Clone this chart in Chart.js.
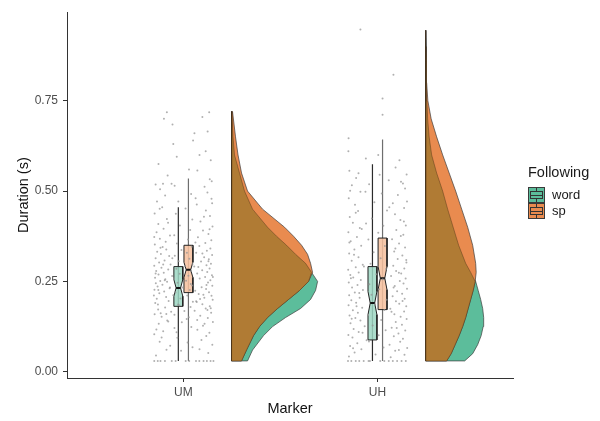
<!DOCTYPE html>
<html lang="en">
<head>
<meta charset="UTF-8">
<title>Duration by Marker</title>
<script src="https://cdn.jsdelivr.net/npm/chart.js"></script>
<style>
  body { margin: 0; background: #fff; font-family: "Liberation Sans", Arial, sans-serif; }
  #wrap { position: relative; width: 600px; height: 421px; }
  #legend { position: absolute; left: 528px; top: 164px; color: #1a1a1a; }
  #legend .title { font-size: 14.5px; height: 23px; }
  .item { position: relative; height: 16px; font-size: 13px; line-height: 16px; padding-left: 24px; }
  .key { position: absolute; left: 0; top: 0; width: 15px; height: 14px; border: 1px solid #3a3a3a; }
  .key .whisk { position: absolute; left: 7px; top: 0; width: 1px; height: 14px; background: #333; }
  .key .box { position: absolute; left: 1px; width: 11px; top: 3px; height: 6px; border: 1px solid #333; }
  .key .med { position: absolute; left: 0; right: 0; top: 2.5px; height: 1px; background: #333; }
</style>
</head>
<body>
<div id="wrap">
  <canvas id="chart" width="600" height="421"></canvas>
  <div id="legend">
    <div class="title">Following</div>
    <div class="item"><span class="key" id="keyWord"><span class="whisk"></span><span class="box"><span class="med"></span></span></span>word</div>
    <div class="item"><span class="key" id="keySp"><span class="whisk"></span><span class="box"><span class="med"></span></span></span>sp</div>
  </div>
</div>
<script>
const markers = ['UM', 'UH'];
const followers = ['word', 'sp'];
const yTicks = [0, 0.25, 0.5, 0.75];

// half-violin densities (relative), one grid of durations per marker
const umGrid = [0.03, 0.06, 0.10, 0.125, 0.15, 0.175, 0.20, 0.225, 0.25, 0.275, 0.30, 0.325, 0.35, 0.375, 0.40, 0.45, 0.50, 0.55, 0.60, 0.65, 0.72];
const umWordDensity = [0.16, 0.21, 0.32, 0.41, 0.54, 0.69, 0.79, 0.84, 0.86, 0.80, 0.74, 0.64, 0.55, 0.45, 0.36, 0.21, 0.13, 0.08, 0.03, 0.015, 0.004];
const umSpDensity = [0.10, 0.15, 0.22, 0.28, 0.36, 0.46, 0.57, 0.68, 0.77, 0.81, 0.79, 0.76, 0.70, 0.62, 0.53, 0.31, 0.16, 0.10, 0.065, 0.04, 0.01];

const uhGrid = [0.03, 0.05, 0.075, 0.10, 0.125, 0.15, 0.175, 0.20, 0.225, 0.25, 0.275, 0.30, 0.35, 0.40, 0.45, 0.50, 0.55, 0.60, 0.65, 0.70, 0.75, 0.80, 0.85, 0.90, 0.945];
const uhWordDensity = [0.39, 0.47, 0.52, 0.555, 0.575, 0.58, 0.57, 0.55, 0.525, 0.50, 0.45, 0.40, 0.33, 0.275, 0.22, 0.17, 0.11, 0.06, 0.035, 0.02, 0.013, 0.009, 0.006, 0.004, 0.002];
const uhSpDensity = [0.21, 0.255, 0.295, 0.335, 0.37, 0.40, 0.425, 0.45, 0.475, 0.495, 0.505, 0.50, 0.47, 0.42, 0.36, 0.30, 0.235, 0.17, 0.11, 0.055, 0.022, 0.01, 0.006, 0.003, 0];

// boxplots: [lower whisker, q1, median, q3, upper whisker, notch half-height]
const umWordBox = [0.03, 0.181, 0.232, 0.291, 0.455, 0.023];
const umSpBox = [0.03, 0.219, 0.282, 0.350, 0.535, 0.021];
const uhWordBox = [0.03, 0.088, 0.190, 0.291, 0.574, 0.032];
const uhSpBox = [0.03, 0.172, 0.259, 0.370, 0.643, 0.032];

// raw durations with their jitter offset: [offset, duration]
const umPoints = [
  [-0.150,0.03],[-0.132,0.03],[-0.118,0.03],[-0.095,0.03],[0.082,0.03],[0.104,0.03],[0.121,0.03],[0.140,0.03],[0.155,0.03],[-0.060,0.03],[0.065,0.03],
  [-0.141,0.045],[0.128,0.052],[-0.087,0.061],[0.047,0.068],[0.149,0.075],[-0.122,0.083],[0.093,0.088],[-0.031,0.094],[0.118,0.099],[-0.068,0.072],
  [-0.150,0.104],[-0.104,0.112],[0.134,0.108],[0.072,0.116],[-0.046,0.121],[0.101,0.127],[-0.127,0.133],[0.152,0.138],[-0.083,0.142],[0.017,0.146],[0.126,0.149],[-0.139,0.117],
  [-0.112,0.152],[0.087,0.155],[-0.148,0.159],[0.143,0.163],[-0.063,0.166],[0.058,0.169],[-0.130,0.172],[0.115,0.175],[-0.094,0.178],[0.136,0.181],[-0.021,0.184],[0.098,0.187],[-0.145,0.190],[0.069,0.193],[-0.076,0.196],[0.151,0.199],[-0.117,0.162],[0.124,0.171],
  [-0.137,0.202],[0.108,0.205],[-0.089,0.207],[0.145,0.210],[-0.052,0.212],[0.079,0.215],[-0.124,0.217],[0.132,0.220],[-0.099,0.222],[0.061,0.224],[-0.149,0.227],[0.117,0.229],[-0.071,0.231],[0.094,0.234],[-0.133,0.236],[0.149,0.238],[-0.108,0.241],[0.038,0.243],[-0.142,0.245],[0.127,0.247],[-0.084,0.249],[0.103,0.213],
  [-0.119,0.251],[0.139,0.253],[-0.093,0.256],[0.084,0.258],[-0.146,0.260],[0.112,0.262],[-0.058,0.265],[0.147,0.267],[-0.128,0.269],[0.071,0.272],[-0.101,0.274],[0.123,0.276],[-0.140,0.279],[0.097,0.281],[-0.078,0.283],[0.135,0.286],[-0.113,0.288],[0.056,0.291],[-0.150,0.293],[0.119,0.295],[-0.066,0.297],[0.142,0.299],
  [-0.125,0.302],[0.091,0.305],[-0.097,0.308],[0.131,0.311],[-0.143,0.314],[0.107,0.317],[-0.073,0.320],[0.148,0.323],[-0.116,0.326],[0.066,0.329],[-0.135,0.332],[0.121,0.335],[-0.088,0.338],[0.139,0.341],[-0.107,0.345],[0.082,0.348],
  [-0.147,0.352],[0.113,0.356],[-0.091,0.360],[0.144,0.364],[-0.121,0.368],[0.075,0.372],[-0.069,0.377],[0.129,0.381],[-0.138,0.386],[0.101,0.391],[-0.102,0.396],
  [0.150,0.402],[-0.129,0.409],[0.088,0.416],[-0.085,0.423],[0.137,0.431],[-0.148,0.438],[0.116,0.446],[-0.109,0.455],[0.069,0.463],[-0.136,0.471],[0.145,0.479],[-0.094,0.488],[0.124,0.496],
  [-0.120,0.505],[0.109,0.512],[-0.143,0.518],[-0.105,0.520],[0.146,0.527],[0.136,0.533],[-0.081,0.543],[0.072,0.557],[-0.128,0.575],[0.141,0.585],[0.083,0.600],[-0.052,0.630],[0.115,0.610],[0.125,0.665],[-0.100,0.700],[0.098,0.705],[-0.085,0.718],[0.133,0.718],
  [-0.040,0.03],[0.012,0.03],[0.030,0.03],[-0.012,0.058],[0.022,0.081],[-0.035,0.109],[0.041,0.124],[-0.008,0.137],[0.028,0.151],[-0.046,0.158],[0.005,0.168],[0.037,0.179],[-0.027,0.186],[0.049,0.194],[-0.015,0.203],[0.020,0.211],[-0.041,0.219],[0.033,0.226],[-0.004,0.233],[0.045,0.239],[-0.030,0.246],[0.014,0.252],[-0.048,0.259],[0.026,0.266],[-0.019,0.271],[0.039,0.278],[-0.036,0.285],[0.008,0.292],[0.047,0.298],[-0.024,0.306],[0.031,0.313],[-0.044,0.321],[0.018,0.329],[-0.010,0.337],[0.043,0.346],[-0.033,0.355],[0.024,0.366],[-0.047,0.378],[0.035,0.392],[-0.018,0.405],[0.046,0.421],[-0.039,0.437],[0.011,0.452],[-0.026,0.471],[0.040,0.492],[-0.045,0.515],[0.029,0.560],[-0.034,0.595],[0.050,0.640],[-0.056,0.684],[0.057,0.660],[-0.061,0.520],[0.063,0.480],
  [-0.078,0.139],[0.071,0.143],[-0.131,0.186],[0.086,0.201],[-0.069,0.233],[0.119,0.240],[-0.143,0.272],[0.077,0.290],[-0.104,0.297],[0.129,0.306],[-0.057,0.314],[0.098,0.327],[-0.118,0.343],[0.062,0.358],[-0.150,0.373],[0.135,0.394],[-0.079,0.412],[0.106,0.429],[-0.122,0.451],[0.148,0.466],[-0.096,0.253],[0.152,0.262],[-0.129,0.226],[0.066,0.195],[-0.152,0.211],[0.141,0.176],[-0.088,0.160],[0.109,0.133],[-0.112,0.095],[0.083,0.062]
];
const uhPoints = [
  [-0.152,0.03],[-0.135,0.03],[-0.112,0.03],[-0.094,0.03],[-0.071,0.03],[0.058,0.03],[0.079,0.03],[0.101,0.03],[0.124,0.03],[0.146,0.03],[-0.046,0.03],[0.035,0.03],
  [-0.147,0.042],[0.139,0.047],[-0.118,0.053],[0.091,0.058],[-0.083,0.062],[0.153,0.066],[-0.141,0.071],[0.062,0.075],[-0.104,0.079],[0.117,0.083],[-0.056,0.087],[0.131,0.091],[-0.129,0.095],[0.084,0.098],
  [-0.150,0.102],[0.108,0.106],[-0.097,0.110],[0.143,0.114],[-0.123,0.118],[0.073,0.122],[-0.066,0.126],[0.126,0.130],[-0.139,0.134],[0.094,0.138],[-0.088,0.142],[0.150,0.146],[-0.114,0.149],
  [0.119,0.152],[-0.144,0.156],[0.087,0.159],[-0.101,0.163],[0.137,0.167],[-0.127,0.170],[0.066,0.174],[-0.079,0.177],[0.148,0.181],[-0.149,0.184],[0.112,0.188],[-0.110,0.191],[0.095,0.195],[-0.135,0.198],
  [0.140,0.202],[-0.092,0.205],[0.078,0.209],[-0.146,0.212],[0.127,0.216],[-0.117,0.219],[0.101,0.223],[-0.075,0.226],[0.152,0.230],[-0.131,0.233],[0.089,0.237],[-0.103,0.240],[0.134,0.244],[-0.148,0.247],
  [0.115,0.251],[-0.086,0.254],[0.145,0.258],[-0.125,0.261],[0.070,0.265],[-0.140,0.268],[0.122,0.272],[-0.097,0.275],[0.096,0.279],[-0.151,0.282],[0.138,0.286],[-0.112,0.289],[0.081,0.293],[-0.076,0.296],
  [0.149,0.302],[-0.133,0.307],[0.104,0.312],[-0.098,0.317],[0.128,0.322],[-0.146,0.327],[0.086,0.333],[-0.119,0.338],[0.142,0.344],[-0.084,0.349],[0.111,0.355],[-0.138,0.361],[0.075,0.367],[-0.106,0.373],[0.133,0.379],[-0.150,0.386],[0.097,0.392],[-0.091,0.398],
  [0.146,0.405],[-0.127,0.412],[0.118,0.420],[-0.143,0.428],[0.090,0.436],[-0.100,0.445],[0.137,0.453],[-0.116,0.462],[0.152,0.471],[-0.148,0.480],[0.105,0.489],[-0.088,0.498],[0.142,0.507],[-0.132,0.516],[0.121,0.526],[-0.110,0.536],[0.150,0.546],[-0.145,0.556],[0.093,0.565],
  [-0.150,0.610],[-0.149,0.646],[0.004,0.600],[0.026,0.711],[0.026,0.756],[0.082,0.822],[-0.088,0.947],[0.113,0.585],[-0.060,0.590],
  [-0.039,0.03],[0.014,0.03],[-0.010,0.048],[0.031,0.067],[-0.044,0.084],[0.006,0.101],[0.042,0.115],[-0.025,0.128],[0.019,0.143],[-0.048,0.157],[0.035,0.171],[-0.013,0.186],[0.047,0.199],[-0.031,0.213],[0.009,0.228],[-0.042,0.242],[0.027,0.256],[-0.006,0.270],[0.044,0.284],[-0.036,0.299],[0.016,0.314],[-0.020,0.331],[0.038,0.348],[-0.047,0.366],[0.004,0.385],[0.030,0.404],[-0.029,0.424],[0.049,0.446],[-0.016,0.469],[0.022,0.493],[-0.043,0.519],[0.011,0.545],[0.058,0.530],[-0.062,0.498],[0.061,0.455],[-0.059,0.410],
  [-0.077,0.108],[0.099,0.121],[-0.133,0.147],[0.072,0.166],[-0.108,0.181],[0.129,0.196],[-0.094,0.218],[0.083,0.233],[-0.137,0.259],[0.110,0.274],[-0.070,0.291],[0.148,0.309],[-0.121,0.324],[0.092,0.341],[-0.145,0.358],[0.120,0.376],[-0.081,0.395],[0.136,0.416],[-0.112,0.440],[0.079,0.466],[-0.141,0.501],[0.131,0.521],[-0.098,0.549],[0.110,0.060],[-0.126,0.065],[0.068,0.040]
];

// look
const DODGE = 0.026, BOX_HALF = 0.023, VIOLIN_NUDGE = 0.248, VIOLIN_SCALE = 0.5155;
const teal = '#5cbd9b', orange = '#e98b4f', brown = '#b07b34';
const tealLight = 'rgba(158,215,195,0.85)', orangeLight = 'rgba(246,192,158,0.85)';
document.getElementById('keyWord').style.background = teal;
document.getElementById('keySp').style.background = orange;
document.querySelector('#keyWord .box').style.background = teal;
document.querySelector('#keySp .box').style.background = orange;

function violin(pos, grid, dens) {
    const base = pos + VIOLIN_NUDGE;
    const pts = [{x: base, y: grid[0]}];
    grid.forEach((y, i) => pts.push({x: base + dens[i] * VIOLIN_SCALE, y: y}));
    pts.push({x: base, y: grid[grid.length - 1]});
    pts.push({x: base, y: grid[0]});
    return pts;
}

function notchedBox(c, s) {
    const [lo, q1, med, q3, hi, n] = s;
    const h = BOX_HALF;
    return [
        {x: c - h, y: q1}, {x: c - h, y: med - n}, {x: c - h / 2, y: med}, {x: c - h, y: med + n},
        {x: c - h, y: q3}, {x: c + h, y: q3}, {x: c + h, y: med + n}, {x: c + h / 2, y: med},
        {x: c + h, y: med - n}, {x: c + h, y: q1}, {x: c - h, y: q1}
    ];
}

function shape(data, fillColor, stroke, width, order) {
    return {type: 'line', data: data, fill: 'shape', backgroundColor: fillColor, borderColor: stroke,
            borderWidth: width, pointRadius: 0, tension: 0, order: order};
}

function segment(data, color, width, order) {
    return {type: 'line', data: data, fill: false, borderColor: color, borderWidth: width,
            pointRadius: 0, order: order};
}

const datasets = [];
const groups = [
    {pos: 1, grid: umGrid, word: umWordDensity, sp: umSpDensity, boxes: [umWordBox, umSpBox], points: umPoints},
    {pos: 2, grid: uhGrid, word: uhWordDensity, sp: uhSpDensity, boxes: [uhWordBox, uhSpBox], points: uhPoints}
];

groups.forEach(g => {
    const overlap = g.grid.map((_, i) => Math.min(g.word[i], g.sp[i]));
    datasets.push(shape(violin(g.pos, g.grid, g.word), teal, '#3d3d3d', 0.7, 30));
    datasets.push(shape(violin(g.pos, g.grid, g.sp), orange, '#3d3d3d', 0.7, 29));
    datasets.push(shape(violin(g.pos, g.grid, overlap), brown, 'rgba(70,45,20,0.7)', 0.6, 28));

    g.boxes.forEach((b, k) => {
        const c = g.pos + (k === 0 ? -DODGE : DODGE);
        datasets.push(segment([{x: c, y: b[0]}, {x: c, y: b[4]}], k === 0 ? '#2b2b2b' : '#6e6e6e', 1.2, 12));
        datasets.push(shape(notchedBox(c, b), k === 0 ? tealLight : orangeLight, '#222', 1, 11));
        datasets.push(segment([{x: c - BOX_HALF / 2, y: b[2]}, {x: c + BOX_HALF / 2, y: b[2]}], '#111', 2, 10));
    });

    datasets.push({
        type: 'scatter',
        data: g.points.map(p => ({x: g.pos + p[0], y: p[1]})),
        pointRadius: 1, pointBorderWidth: 0, pointBackgroundColor: 'rgba(150,150,150,0.75)', order: 1
    });
});

const axisFont = {family: '"Liberation Sans", Arial, sans-serif', size: 12};
const titleFont = {family: '"Liberation Sans", Arial, sans-serif', size: 14.5};

new Chart(document.getElementById('chart'), {
    type: 'line',
    data: {datasets: datasets},
    options: {
        responsive: false,
        animation: false,
        events: [],
        layout: {padding: {left: 0, top: 10, right: 87, bottom: 0}},
        plugins: {legend: {display: false}, tooltip: {enabled: false}},
        scales: {
            x: {
                type: 'linear',
                min: 0.4005,
                max: 2.698,
                afterBuildTicks: s => { s.ticks = [1, 2].map(v => ({value: v})); },
                afterFit: s => { s.height = 43; },
                ticks: {callback: v => markers[v - 1], font: axisFont, color: '#4d4d4d', padding: 3, maxRotation: 0, autoSkip: false},
                grid: {drawOnChartArea: false, drawTicks: true, tickLength: 4, color: '#333'},
                border: {color: '#333', width: 1},
                title: {display: true, text: 'Marker', font: titleFont, color: '#111', padding: {top: 2, bottom: 3}}
            },
            y: {
                type: 'linear',
                min: -0.0173,
                max: 0.995,
                afterBuildTicks: s => { s.ticks = yTicks.map(v => ({value: v})); },
                afterFit: s => { s.width = 67; },
                ticks: {callback: v => v.toFixed(2), font: axisFont, color: '#4d4d4d', padding: 5},
                grid: {drawOnChartArea: false, drawTicks: true, tickLength: 4, color: '#333'},
                border: {color: '#333', width: 1},
                title: {display: true, text: 'Duration (s)', font: titleFont, color: '#111', padding: {top: 15, bottom: 0}}
            }
        }
    }
});
</script>
</body>
</html>
